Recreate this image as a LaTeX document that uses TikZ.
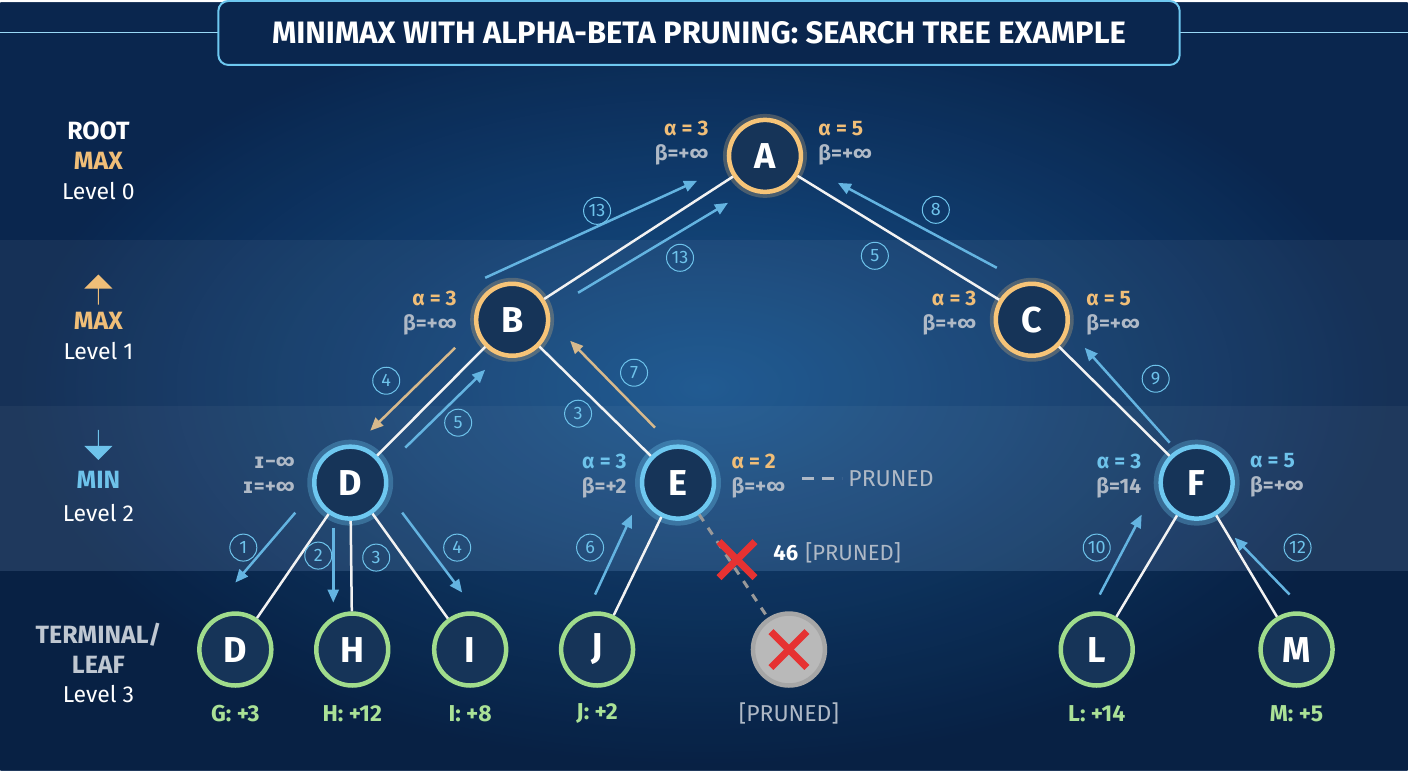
\documentclass[tikz,border=0pt]{standalone}
\usepackage{fontspec}
\setmainfont{Fira Sans}
\newfontfamily\symfont{DejaVu Sans}
\usetikzlibrary{positioning,arrows.meta,shadings,shapes.arrows}
\definecolor{bgdark}{RGB}{10,38,78}
\definecolor{bgmid}{RGB}{24,88,148}
\definecolor{nodefill}{RGB}{22,52,88}
\definecolor{ringor}{RGB}{246,196,120}
\definecolor{ringbl}{RGB}{110,200,240}
\definecolor{ringgr}{RGB}{160,220,140}
\definecolor{txtor}{RGB}{240,190,120}
\definecolor{txtbl}{RGB}{110,195,235}
\definecolor{txtgr}{RGB}{170,225,150}
\definecolor{txtgy}{RGB}{175,185,198}
\definecolor{stepbl}{RGB}{100,180,225}
\definecolor{steptan}{RGB}{215,185,140}
\definecolor{xred}{RGB}{230,50,50}
\tikzset{
  tnode/.style={circle, minimum size=72pt, inner sep=0pt, fill=nodefill, line width=4.5pt,
    text=white, font=\fontsize{36}{36}\selectfont\bfseries},
  maxn/.style={tnode, draw=ringor, preaction={draw=ringor, line width=12pt, opacity=0.25}},
  minn/.style={tnode, draw=ringbl, preaction={draw=ringbl, line width=14pt, opacity=0.3}},
  leafn/.style={tnode, draw=ringgr},
  prunen/.style={tnode, draw=gray!70, fill=gray!55},
  branch/.style={draw=white!90!gray, line width=2.5pt},
  order/.style={-{Triangle[length=13pt,width=11pt]}, line width=2.5pt, draw=stepbl},
  tanorder/.style={order, draw=steptan},
  num/.style={circle, draw=txtbl, line width=1pt, inner sep=1pt, minimum size=27pt,
    text=txtbl, font=\fontsize{18}{18}\selectfont},
  ab/.style={font=\fontsize{21}{25}\selectfont\bfseries, align=right},
  abr/.style={ab, align=left},
  lvl/.style={text=white, font=\fontsize{23}{23}\selectfont},
  lvlb/.style={font=\fontsize{25}{25}\selectfont\bfseries},
  lvlarrow/.style={single arrow, minimum height=30pt, minimum width=28pt,
    inner sep=0pt, single arrow head extend=5pt},
  leaflab/.style={text=txtgr, font=\fontsize{23}{23}\selectfont\bfseries}
}
\begin{document}
\begin{tikzpicture}[x=1pt,y=1pt]
  % background and level bands
  \fill[bgdark] (0,0) rectangle (1408,768);
  \shade[inner color=bgmid, outer color=bgdark, fill opacity=0.9] (0,0) rectangle (1408,768);
  \fill[white, opacity=0.05] (0,200) rectangle (1408,531);
  \fill[white, opacity=0.04] (0,200) rectangle (1408,365);
  \fill[black, opacity=0.12] (0,0) rectangle (1408,200);
  % title
  \draw[ringbl!70, line width=1pt] (0,738) -- (218,738) (1180,738) -- (1408,738);
  \node[draw=ringbl, line width=2pt, rounded corners=10pt, fill=bgdark, minimum width=962pt,
    minimum height=64pt, text=white, font=\fontsize{31}{31}\selectfont\bfseries] (title) at (699,738)
    {MINIMAX WITH ALPHA-BETA PRUNING: SEARCH TREE EXAMPLE};
  % level captions
  \node[lvl, lvlb] (l0a) at (98,640) {ROOT};
  \node[lvlb, text=txtor] (l0b) at (98,610) {MAX};
  \node[lvl] (l0c) at (98,580) {Level 0};
  \node[lvlarrow, fill=txtor, shape border rotate=90] (l1u) at (98,481) {};
  \node[lvlb, text=txtor] (l1b) at (98,450) {MAX};
  \node[lvl] (l1c) at (98,420) {Level 1};
  \node[lvlarrow, fill=txtbl, shape border rotate=270] (l2u) at (98,326) {};
  \node[lvlb, text=txtbl] (l2b) at (98,291) {MIN};
  \node[lvl] (l2c) at (98,258) {Level 2};
  \node[lvlb, text=txtgy!80!white] (l3a) at (98,136) {TERMINAL/};
  \node[lvlb, text=txtgy!80!white] (l3b) at (98,106) {LEAF};
  \node[lvl] (l3c) at (98,76) {Level 3};
  % tree nodes
  \node[maxn] (A) at (765,615) {A};
  \node[maxn] (B) at (512,451) {B};
  \node[maxn] (C) at (1032,451) {C};
  \node[minn] (D) at (350,288) {D};
  \node[minn] (E) at (678,288) {E};
  \node[minn] (F) at (1197,288) {F};
  \node[leafn] (G) at (235,121) {D};
  \node[leafn] (H) at (352,121) {H};
  \node[leafn] (I) at (470,121) {I};
  \node[leafn] (J) at (597,121) {J};
  \node[prunen] (K) at (789,121) {};
  \node[leafn] (L) at (1097,121) {L};
  \node[leafn] (M) at (1297,121) {M};
  % tree edges
  \draw[branch] (A) -- (B);
  \draw[branch] (A) -- (C);
  \draw[branch] (B) -- (D);
  \draw[branch] (B) -- (E);
  \draw[branch] (C) -- (F);
  \draw[branch] (D) -- (G);
  \draw[branch] (D) -- (H);
  \draw[branch] (D) -- (I);
  \draw[branch] (E) -- (J);
  \draw[branch] (F) -- (L);
  \draw[branch] (F) -- (M);
  \draw[gray!80, line width=3pt, dash pattern=on 8pt off 8pt] (E) -- (K);
  % pruned crosses
  \draw[xred, line width=7pt] (K.center) ++(-18,-18) -- ++(36,36) ++(0,-36) -- ++(-36,36);
  \coordinate (cut) at (737,211);
  \draw[xred, line width=7pt] (cut) ++(-18,-18) -- ++(36,36) ++(0,-36) -- ++(-36,36);
  \node[anchor=west, text=white, font=\fontsize{22}{22}\selectfont\bfseries] (cutv) at (770,218) {46};
  \node[anchor=west, text=txtgy, font=\fontsize{22}{22}\selectfont] (cutl) at (cutv.east) {[PRUNED]};
  % search order arrows
  \draw[order] (485,493) -- (697,590);
  \draw[order] (578,478) -- (728,568);
  \draw[order] (997,503) -- (838,588);
  \draw[tanorder] (455,423) -- (370,340);
  \draw[order] (405,323) -- (485,401);
  \draw[tanorder] (655,343) -- (570,430);
  \draw[order] (1170,328) -- (1085,423);
  \draw[order] (295,258) -- (235,188);
  \draw[order] (333,243) -- (333,168);
  \draw[order] (402,258) -- (462,178);
  \draw[order] (595,176) -- (632,256);
  \draw[order] (1100,176) -- (1142,256);
  \draw[order] (1290,176) -- (1235,233);
  % step numbers
  \node[num] (n13a) at (597,560) {13};
  \node[num] (n13b) at (680,513) {13};
  \node[num] (n8) at (936,561) {8};
  \node[num] (n5a) at (875,515) {5};
  \node[num] (n4a) at (386,390) {4};
  \node[num] (n5b) at (458,348) {5};
  \node[num] (n7) at (634,398) {7};
  \node[num] (n3a) at (578,357) {3};
  \node[num] (n9) at (1156,392) {9};
  \node[num] (n1) at (243,223) {1};
  \node[num] (n2) at (318,215) {2};
  \node[num] (n3b) at (376,213) {3};
  \node[num] (n4b) at (457,223) {4};
  \node[num] (n6) at (590,223) {6};
  \node[num] (n10) at (1097,223) {10};
  \node[num] (n12) at (1298,223) {12};
  % alpha-beta values
  \node[ab, anchor=east] (abA1) at (712,628) {\textcolor{txtor}{α = 3}\\\textcolor{txtgy}{β=+∞}};
  \node[abr, anchor=west] (abA2) at (815,628) {\textcolor{txtor}{α = 5}\\\textcolor{txtgy}{β=+∞}};
  \node[ab, anchor=east] (abB) at (460,458) {\textcolor{txtor}{α = 3}\\\textcolor{txtgy}{β=+∞}};
  \node[ab, anchor=east] (abC1) at (980,458) {\textcolor{txtor}{α = 3}\\\textcolor{txtgy}{β=+∞}};
  \node[abr, anchor=west] (abC2) at (1083,458) {\textcolor{txtor}{α = 5}\\\textcolor{txtgy}{β=+∞}};
  \node[ab, anchor=east] (abD) at (298,295) {\textcolor{txtgy}{{\symfont ɪ}−∞}\\\textcolor{txtgy}{{\symfont ɪ}=+∞}};
  \node[ab, anchor=east] (abE1) at (630,295) {\textcolor{txtbl}{α = 3}\\\textcolor{txtgy}{β=+2}};
  \node[abr, anchor=west] (abE2) at (728,295) {\textcolor{txtor}{α = 2}\\\textcolor{txtgy}{β=+∞}};
  \draw[txtgy, line width=3pt, dash pattern=on 12pt off 8pt] (802,292) -- (842,292);
  \node[anchor=west, text=txtgy, font=\fontsize{23}{23}\selectfont] (prl) at (845,292) {PRUNED};
  \node[ab, anchor=east] (abF1) at (1145,295) {\textcolor{txtbl}{α = 3}\\\textcolor{txtgy}{β=14}};
  \node[abr, anchor=west] (abF2) at (1247,295) {\textcolor{txtbl}{α = 5}\\\textcolor{txtgy}{β=+∞}};
  % leaf values
  \node[leaflab] (vG) at (235,57) {G: +3};
  \node[leaflab] (vH) at (352,57) {H: +12};
  \node[leaflab] (vI) at (470,57) {I: +8};
  \node[leaflab] (vJ) at (597,57) {J: +2};
  \node[leaflab, text=txtgy, font=\fontsize{23}{23}\selectfont] (vK) at (789,57) {[PRUNED]};
  \node[leaflab] (vL) at (1097,57) {L: +14};
  \node[leaflab] (vM) at (1297,57) {M: +5};
\end{tikzpicture}
\end{document}
